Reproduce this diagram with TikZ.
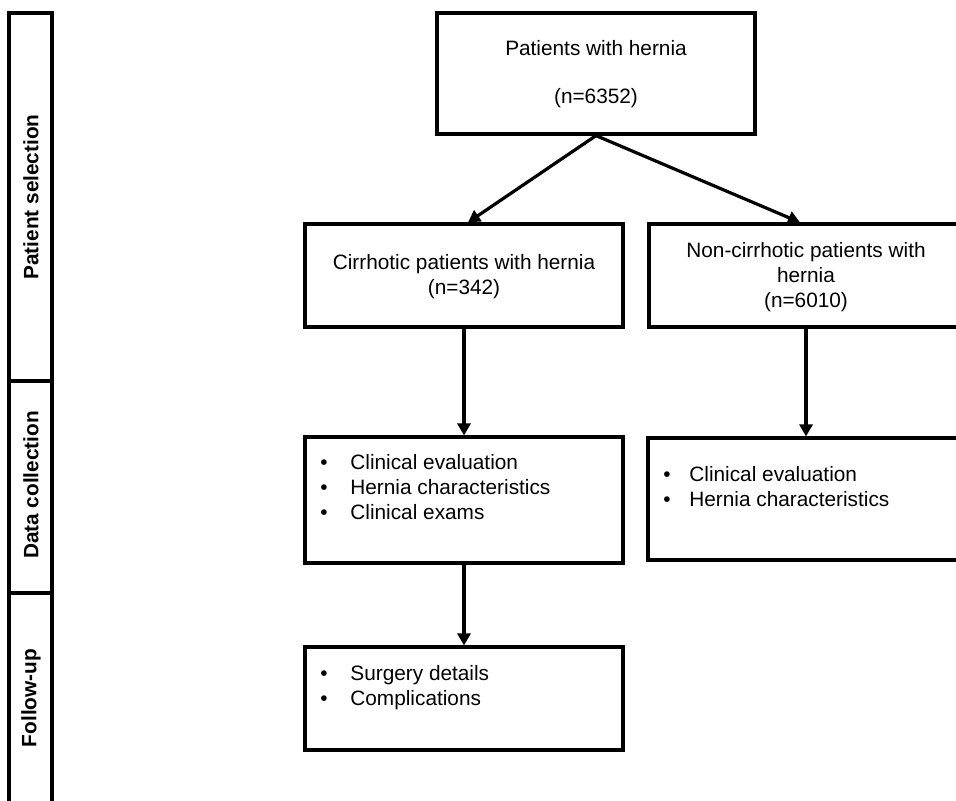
\documentclass[tikz,border=0pt]{standalone}
\usepackage{fontspec}
\setmainfont{Liberation Sans}
\usetikzlibrary{arrows.meta}
\begin{document}
\begin{tikzpicture}[x=0.5pt,y=-0.5pt,
  box/.style={draw=black,line width=1.6pt,inner sep=0pt,rectangle},
  band/.style={draw=black,line width=1.6pt,inner sep=0pt,rectangle,minimum width=21.5pt},
  bandlabel/.style={rotate=90,font=\fontsize{10.4pt}{12.5pt}\selectfont\bfseries,inner sep=0pt},
  txt/.style={font=\fontsize{10.4pt}{12.5pt}\selectfont,inner sep=0pt,align=center},
  blist/.style={font=\fontsize{10.4pt}{12.5pt}\selectfont,inner sep=0pt,align=left,anchor=north west},
  conn/.style={line width=1.6pt,-{Triangle[length=6pt,width=6.5pt]}}
]
\useasboundingbox (0,0) rectangle (956,800);
\clip (0,0) rectangle (956,800);
\fill[white] (0,0) rectangle (956,800);

% side bands
\node[band,minimum height=184pt] (b1) at (30.5,197) {};
\node[band,minimum height=106pt] (b2) at (30.5,487) {};
\node[band,minimum height=113.5pt] (b3) at (30.5,706.5) {};
\node[bandlabel] (l1) at (31,197) {Patient selection};
\node[bandlabel] (l2) at (31,485) {Data collection};
\node[bandlabel] (l3) at (31,698) {Follow-up};

% flow boxes
\node[box,minimum width=159pt,minimum height=60.5pt] (top) at (596,73.5) {};
\node[txt] (toptxt) at (596,74) {Patients with hernia\\[11.5pt](n=6352)};

\node[box,minimum width=159pt,minimum height=51.5pt] (cirr) at (464,275.5) {};
\node[txt] (cirrtxt) at (464,277) {Cirrhotic patients with hernia\\(n=342)};

\node[box,minimum width=157pt,minimum height=51.5pt] (nc) at (806,275.5) {};
\node[txt] (nctxt) at (806,277.5) {Non-cirrhotic patients with\\hernia\\(n=6010)};

\node[box,minimum width=159pt,minimum height=63pt] (dl) at (464,500) {};
\node[blist] (dltxt) at (320,454) {\makebox[15pt][l]{•}Clinical evaluation\\\makebox[15pt][l]{•}Hernia characteristics\\\makebox[15pt][l]{•}Clinical exams};

\node[box,minimum width=158pt,minimum height=61pt] (dr) at (806,499) {};
\node[blist] (drtxt) at (663,466) {\makebox[13pt][l]{•}Clinical evaluation\\\makebox[13pt][l]{•}Hernia characteristics};

\node[box,minimum width=159pt,minimum height=51.5pt] (fu) at (464,698.5) {};
\node[blist] (futxt) at (320,665) {\makebox[15pt][l]{•}Surgery details\\\makebox[15pt][l]{•}Complications};

% connectors
\draw[conn] (top.south) -- ([xshift=2pt]cirr.north);
\draw[conn] (top.south) -- ([xshift=-3pt]nc.north);
\draw[conn] (cirr.south) -- (dl.north);
\draw[conn] (nc.south) -- (dr.north);
\draw[conn] (dl.south) -- (fu.north);
\end{tikzpicture}
\end{document}
